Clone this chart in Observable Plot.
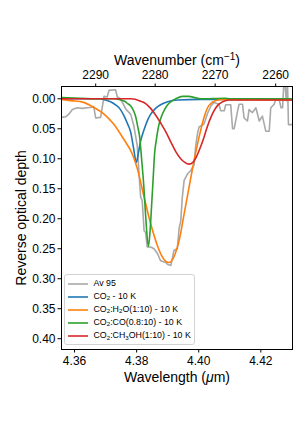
<!DOCTYPE html>
<html><head><meta charset="utf-8">
<script src="https://cdn.jsdelivr.net/npm/d3@7"></script>
<script src="https://cdn.jsdelivr.net/npm/@observablehq/plot@0.6"></script>
<style>
body{margin:0;background:#fff;}
#wrap{position:relative;width:308px;height:436px;font-family:"Liberation Sans",Arial,sans-serif;}
#legend{position:absolute;left:64px;top:274px;width:131px;height:71px;box-sizing:border-box;border:1px solid #d2d2d2;border-radius:3px;background:rgba(255,255,255,0.85);font-size:8.8px;color:#000;}
.row{position:absolute;left:0;width:100%;height:0;}
.sw{position:absolute;left:2.5px;top:-3px;width:20px;height:6px;overflow:visible;}
.lab{position:absolute;left:28.5px;top:-6px;white-space:nowrap;line-height:11px;}
.lab sub{font-size:0.7em;vertical-align:baseline;position:relative;top:0.25em;}
g[aria-label="x-axis label"] text, g[aria-label="y-axis label"] text{font-size:14px;}
</style></head>
<body><div id="wrap"><div id="legend"></div></div>
<script>
// ---- data (wavelength in µm, reverse optical depth) ----
const avLam = [4.3558,4.3571,4.3581,4.3593,4.3609,4.3625,4.3641,4.3657,4.3662,4.3668,4.3684,4.3695,4.3705,4.3711,4.3732,4.3738,4.3748,4.3765,4.3781,4.3791,4.3802,4.3807,4.3813,4.3818,4.3824,4.3829,4.3834,4.3845,4.3856,4.3867,4.3877,4.3894,4.3899,4.3910,4.3915,4.3920,4.3931,4.3937,4.3942,4.3947,4.3953,4.3964,4.3974,4.3985,4.3990,4.3996,4.4001,4.4017,4.4028,4.4039,4.4049,4.4065,4.4071,4.4082,4.4087,4.4103,4.4109,4.4114,4.4125,4.4130,4.4141,4.4146,4.4157,4.4162,4.4173,4.4184,4.4195,4.4205,4.4216,4.4227,4.4232,4.4243,4.4248,4.4259,4.4265,4.4270,4.4274,4.4278,4.4282,4.4286,4.4289,4.4303];
const avTau = [0.031,0.030,0.026,0.018,0.015,0.016,0.015,0.014,0.013,0.032,0.031,-0.004,-0.003,-0.014,-0.015,-0.003,0.000,0.017,0.026,0.045,0.078,0.120,0.164,0.170,0.220,0.223,0.247,0.247,0.250,0.258,0.270,0.273,0.276,0.278,0.266,0.253,0.250,0.215,0.205,0.165,0.136,0.125,0.120,0.110,0.080,0.058,0.047,0.042,0.025,0.012,0.006,0.009,0.020,0.020,0.010,0.010,0.050,0.050,0.021,0.009,0.009,0.032,0.037,0.018,0.023,0.015,0.037,0.029,0.054,0.054,0.015,0.009,0.001,0.001,0.015,0.015,-0.025,-0.025,0.003,-0.025,0.043,0.043];

const co2Lam = [4.3558,4.3684,4.3700,4.3716,4.3732,4.3748,4.3761,4.3771,4.3781,4.3790,4.3799,4.3805,4.3813,4.3823,4.3835,4.3845,4.3861,4.3877,4.3900,4.3932,4.4006,4.4306];
const co2Tau = [0.000,0.000,0.002,0.005,0.010,0.018,0.030,0.042,0.056,0.082,0.106,0.092,0.070,0.053,0.036,0.026,0.016,0.010,0.005,0.002,0.001,0.001];

const h2oLam = [4.3558,4.3587,4.3629,4.3661,4.3694,4.3726,4.3758,4.3786,4.3802,4.3824,4.3845,4.3867,4.3881,4.3894,4.3903,4.3913,4.3923,4.3937,4.3953,4.3969,4.3985,4.4001,4.4017,4.4033,4.4055,4.4082,4.4306];
const h2oTau = [0.001,0.003,0.006,0.014,0.025,0.042,0.067,0.092,0.116,0.164,0.208,0.245,0.262,0.271,0.273,0.270,0.260,0.236,0.192,0.147,0.103,0.064,0.031,0.011,0.003,0.001,0.002];

const coLam = [4.3558,4.3619,4.3684,4.3732,4.3748,4.3761,4.3771,4.3781,4.3790,4.3797,4.3803,4.3810,4.3816,4.3823,4.3829,4.3838,4.3844,4.3848,4.3853,4.3858,4.3863,4.3871,4.3881,4.3890,4.3900,4.3913,4.3929,4.3948,4.3968,4.3987,4.4006,4.4084,4.4103,4.4306];
const coTau = [-0.002,-0.001,0.000,0.000,0.002,0.004,0.008,0.012,0.020,0.030,0.045,0.065,0.100,0.145,0.195,0.246,0.215,0.180,0.135,0.090,0.070,0.045,0.028,0.018,0.010,0.004,-0.001,-0.004,-0.004,-0.002,0.000,-0.001,0.000,0.000];

const meohLam = [4.3558,4.3781,4.3813,4.3829,4.3845,4.3861,4.3877,4.3894,4.3910,4.3926,4.3942,4.3955,4.3969,4.3981,4.3994,4.4006,4.4017,4.4028,4.4039,4.4049,4.4061,4.4077,4.4097,4.4306];
const meohTau = [0.000,0.000,0.004,0.008,0.016,0.027,0.040,0.055,0.072,0.088,0.100,0.106,0.109,0.106,0.095,0.080,0.064,0.046,0.031,0.020,0.011,0.005,0.002,0.002];

const seriesNames = ["Av 95","CO<sub>2</sub> - 10 K","CO<sub>2</sub>:H<sub>2</sub>O(1:10) - 10 K","CO<sub>2</sub>:CO(0.8:10) - 10 K","CO<sub>2</sub>:CH<sub>3</sub>OH(1:10) - 10 K"];
const seriesColors = ["#a9a9a9","#1f77b4","#ff7f0e","#2ca02c","#d62728"];
const xTicks = [4.36,4.38,4.40,4.42];
const wnTicks = [2290,2280,2270,2260];
const yTicks = [0,0.05,0.10,0.15,0.20,0.25,0.30,0.35,0.40];
const xDomain = [4.3558,4.4302];
const yDomain = [-0.0205,0.418];

const toRows = (L,T) => L.map((l,i)=>({lam:l,tau:T[i]}));
const sets = [
  {d: toRows(avLam,avTau), curve:"linear"},
  {d: toRows(co2Lam,co2Tau), curve:"monotone-x"},
  {d: toRows(h2oLam,h2oTau), curve:"monotone-x"},
  {d: toRows(coLam,coTau), curve:"monotone-x"},
  {d: toRows(meohLam,meohTau), curve:"monotone-x"}
];

const chart = Plot.plot({
  width: 308, height: 436,
  marginTop: 86, marginBottom: 87, marginLeft: 61, marginRight: 16,
  style: {fontFamily: "Liberation Sans, Arial, sans-serif", fontSize: "12px", background: "white", color: "black"},
  x: {domain: xDomain},
  y: {domain: yDomain, reverse: true},
  marks: [
    ...sets.map((s,i)=>Plot.line(s.d,{x:"lam",y:"tau",stroke:seriesColors[i],strokeWidth:1.6,curve:s.curve,clip:true})),
    Plot.frame({stroke:"black", strokeWidth:1}),
    Plot.axisX({anchor:"bottom", ticks:xTicks, tickFormat:d3.format(".2f"), tickSize:3.5, tickPadding:3, label:"Wavelength (μm)", labelAnchor:"center", labelArrow:"none", labelOffset:32}),
    Plot.axisX({anchor:"top", ticks:wnTicks.map(w=>1e4/w), tickFormat:d=>String(Math.round(1e4/d)), tickSize:3.5, tickPadding:4.5, label:"Wavenumber (cm-1)", labelAnchor:"center", labelArrow:"none", labelOffset:31.5}),
    Plot.axisY({anchor:"left", ticks:yTicks, tickFormat:d3.format(".2f"), tickSize:3.5, tickPadding:2.5, label:"Reverse optical depth", labelAnchor:"center", labelArrow:"none", labelOffset:45})
  ]
});
document.getElementById("wrap").prepend(chart);

// rich text in axis labels
const NS = "http://www.w3.org/2000/svg";
chart.querySelectorAll('g[aria-label="x-axis label"] text').forEach(t=>{
  const s = t.textContent;
  if (s.startsWith("Wavelength")) {
    t.textContent = "";
    const a = document.createElementNS(NS,"tspan"); a.textContent = "Wavelength (";
    const b = document.createElementNS(NS,"tspan"); b.textContent = "μ"; b.setAttribute("font-style","italic");
    const c = document.createElementNS(NS,"tspan"); c.textContent = "m)";
    t.append(a,b,c);
  } else if (s.startsWith("Wavenumber")) {
    t.textContent = "";
    const a = document.createElementNS(NS,"tspan"); a.textContent = "Wavenumber (cm";
    const b = document.createElementNS(NS,"tspan"); b.textContent = "\u22121"; b.setAttribute("font-size","10px"); b.setAttribute("dy","-5");
    const c = document.createElementNS(NS,"tspan"); c.textContent = ")"; c.setAttribute("dy","5");
    t.append(a,b,c);
  }
});

// legend
const leg = document.getElementById("legend");
seriesNames.forEach((n,i)=>{
  const r = document.createElement("div"); r.className="row"; r.style.top = (8.6 + i*13.1)+"px";
  r.innerHTML = `<svg class="sw" viewBox="0 0 20 6"><line x1="0" x2="20" y1="3" y2="3" stroke="${seriesColors[i]}" stroke-width="1.6"/></svg><div class="lab">${n}</div>`;
  leg.appendChild(r);
});
</script></body></html>
